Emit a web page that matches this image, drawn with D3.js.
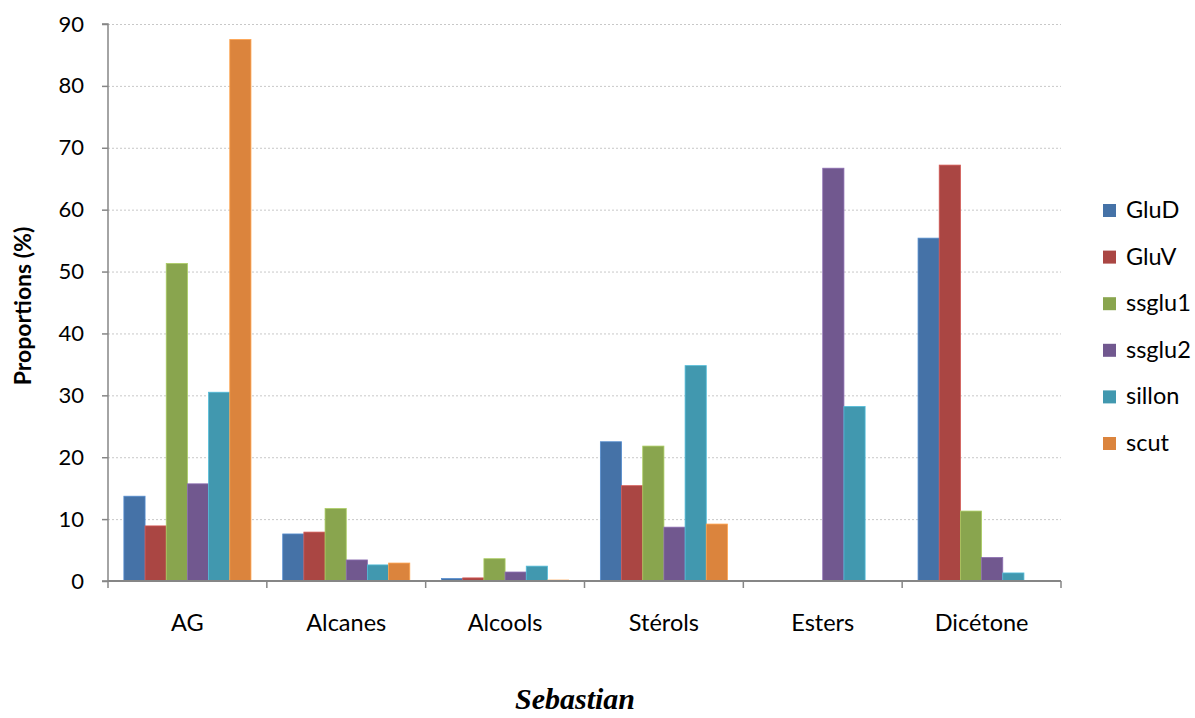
<!DOCTYPE html>
<html><head><meta charset="utf-8">
<script src="https://cdn.jsdelivr.net/npm/d3@7"></script>
<style>body{margin:0;background:#fff}svg{display:block}</style>
</head><body>
<svg id="c" width="1195" height="718"></svg>
<script>
const categories = ["AG","Alcanes","Alcools","Stérols","Esters","Dicétone"];
const series = ["GluD","GluV","ssglu1","ssglu2","sillon","scut"];
const colors = ["#4572A7","#AA4643","#89A54E","#71588F","#4198AF","#DB843D"];
const GluD   = [13.7, 7.6, 0.4, 22.5, 0, 55.4];
const GluV   = [8.9, 7.9, 0.5, 15.4, 0, 67.2];
const ssglu1 = [51.3, 11.7, 3.6, 21.8, 0, 11.3];
const ssglu2 = [15.7, 3.4, 1.45, 8.7, 66.7, 3.8];
const sillon = [30.5, 2.6, 2.4, 34.8, 28.2, 1.3];
const scut   = [87.5, 2.9, 0.15, 9.2, 0, 0];
const yTicks = [0,10,20,30,40,50,60,70,80,90];
const values = [GluD, GluV, ssglu1, ssglu2, sillon, scut];

const svg = d3.select("#c");
const L = 108, R = 1061, T = 24, B = 581;
const font = "Lato, 'Open Sans', sans-serif";

const y = d3.scaleLinear().domain([0,90]).range([B,T]);
const x0 = d3.scaleBand().domain(categories).range([L,R]).padding(0);
const x1 = d3.scaleBand().domain(series).range([x0.bandwidth()*0.1, x0.bandwidth()*0.9]).padding(0);

// gridlines
svg.append("g").selectAll("line").data(yTicks.filter(d=>d>0)).join("line")
  .attr("x1",L).attr("x2",R).attr("y1",d=>y(d)+0.5).attr("y2",d=>y(d)+0.5)
  .attr("stroke","#c8c8c8").attr("stroke-width",1).attr("stroke-dasharray","2,2");

// bars
const g = svg.append("g");
categories.forEach((c,ci)=>{
  series.forEach((s,si)=>{
    const v = values[si][ci];
    if (v<=0) return;
    g.append("rect")
      .attr("x", x0(c)+x1(s)).attr("width", x1.bandwidth())
      .attr("y", y(v)).attr("height", B - y(v))
      .attr("fill", colors[si])
      .attr("stroke", d3.color(colors[si]).brighter(0.6)).attr("stroke-width",0.8);
  });
});

// y axis
const ya = svg.append("g").attr("transform",`translate(${L},0)`)
  .call(d3.axisLeft(y).tickValues(yTicks).tickSize(6).tickPadding(18).tickFormat(d3.format("d")));
ya.select(".domain").attr("stroke","#868686").attr("stroke-width",1.5).attr("d",`M-6,${B}H0V${T}H-6`);
ya.selectAll(".tick line").attr("stroke","#868686").attr("stroke-width",1.5);
ya.selectAll(".tick text").attr("font-family",font).attr("font-size",22).attr("fill","#000");

// x axis
const xa = svg.append("g").attr("transform",`translate(0,${B})`);
xa.append("line").attr("x1",L).attr("x2",R).attr("y1",0).attr("y2",0).attr("stroke","#868686").attr("stroke-width",2);
xa.selectAll("line.tk").data(d3.range(categories.length+1)).join("line").attr("class","tk")
  .attr("x1",i=>L+i*x0.step()).attr("x2",i=>L+i*x0.step()).attr("y1",0).attr("y2",7)
  .attr("stroke","#868686").attr("stroke-width",1.5);
xa.selectAll("text").data(categories).join("text")
  .attr("x",d=>x0(d)+x0.bandwidth()/2).attr("y",50).attr("text-anchor","middle")
  .attr("font-family",font).attr("font-size",23.5).text(d=>d);

// y title
svg.append("text").attr("transform","translate(31,306) rotate(-90)").attr("text-anchor","middle")
  .attr("font-family",font).attr("font-weight","bold").attr("font-size",23).text("Proportions (%)");

// x title
svg.append("text").attr("x",575).attr("y",709).attr("text-anchor","middle")
  .attr("font-family","'Liberation Serif', 'Times New Roman', serif").attr("font-weight","bold").attr("font-style","italic")
  .attr("font-size",30).text("Sebastian");

// legend
const lg = svg.append("g");
series.forEach((s,i)=>{
  const cy = 210 + i*46.6;
  lg.append("rect").attr("x",1103).attr("y",cy-6).attr("width",13).attr("height",13).attr("fill",colors[i]);
  lg.append("text").attr("x",1126).attr("y",cy+8).attr("font-family",font).attr("font-size",23.5).text(s);
});
</script>
</body></html>
